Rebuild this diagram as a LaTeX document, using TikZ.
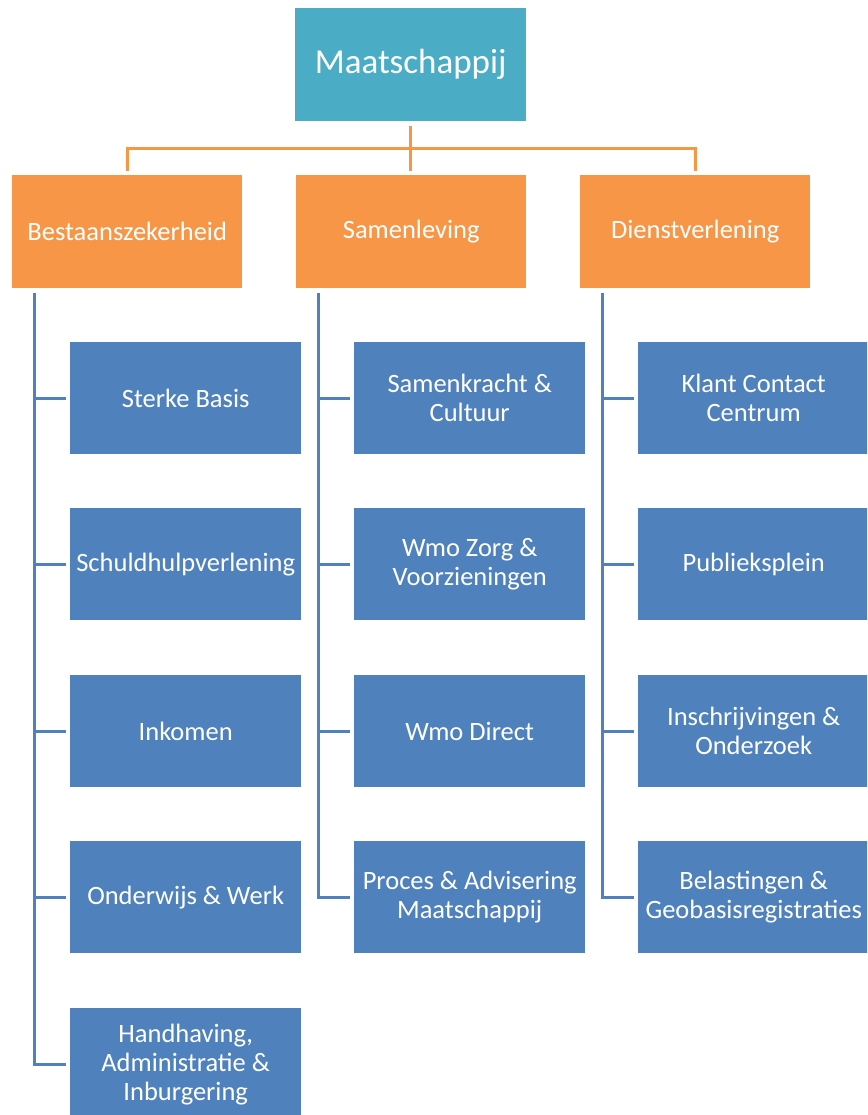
\documentclass[tikz,border=0pt]{standalone}
\usepackage{fontspec}
\setmainfont{Carlito}
\definecolor{teal1}{HTML}{4BACC6}
\definecolor{orange1}{HTML}{F79646}
\definecolor{blue1}{HTML}{4F81BD}
\begin{document}
\begin{tikzpicture}[x=1pt,y=-1pt,
  topbox/.style={fill=teal1,text=white,minimum width=231pt,minimum height=113pt,inner sep=0pt,anchor=north west,font=\fontsize{35}{40}\selectfont},
  midbox/.style={fill=orange1,text=white,minimum width=230pt,minimum height=113pt,inner sep=0pt,anchor=north west,font=\fontsize{26.5}{29}\selectfont},
  subbox/.style={fill=blue1,text=white,minimum width=231pt,minimum height=112pt,inner sep=0pt,anchor=north west,align=center,font=\fontsize{26.5}{29}\selectfont},
  oline/.style={draw=orange1,line width=3pt},
  bline/.style={draw=blue1,line width=3pt}]
\useasboundingbox (0,0) rectangle (867,1115);
\clip (0,0) rectangle (867,1115);
\node[topbox] (top) at (295,8) {Maatschappij};
\node[midbox] (bes) at (12,175) {Bestaanszekerheid};
\node[midbox] (sam) at (296,175) {Samenleving};
\node[midbox] (die) at (580,175) {Dienstverlening};
% blue boxes
\node[subbox] (b1) at (70,342) {Sterke Basis};
\node[subbox] (b2) at (70,508) {Schuldhulpverlening};
\node[subbox] (b3) at (70,675) {Inkomen};
\node[subbox] (b4) at (70,841) {Onderwijs \& Werk};
\node[subbox] (b5) at (70,1008) {Handhaving,\\Administratie \&\\Inburgering};
\node[subbox] (s1) at (354,342) {Samenkracht \&\\Cultuur};
\node[subbox] (s2) at (354,508) {Wmo Zorg \&\\Voorzieningen};
\node[subbox] (s3) at (354,675) {Wmo Direct};
\node[subbox] (s4) at (354,841) {Proces \& Advisering\\Maatschappij};
\node[subbox] (d1) at (638,342) {Klant Contact\\Centrum};
\node[subbox] (d2) at (638,508) {Publieksplein};
\node[subbox] (d3) at (638,675) {Inschrijvingen \&\\Onderzoek};
\node[subbox] (d4) at (638,841) {Belastingen \&\\Geobasisregistraties};
% orange connectors
\draw[oline] ([yshift=-5pt]top.south) -- ([yshift=4pt]top.south |- sam.north);
\draw[oline] ([yshift=4pt]bes.north) -- ++(0,-22) -| ([yshift=4pt]die.north);
% blue connectors
\coordinate (cb) at (34,293);
\coordinate (cs) at (318,293);
\coordinate (cd) at (602,293);
\draw[bline] (cb) |- ([xshift=-4pt]b5.west);
\foreach \n in {b1,b2,b3,b4} \draw[bline] (cb |- \n.west) -- ([xshift=-4pt]\n.west);
\draw[bline] (cs) |- ([xshift=-4pt]s4.west);
\foreach \n in {s1,s2,s3} \draw[bline] (cs |- \n.west) -- ([xshift=-4pt]\n.west);
\draw[bline] (cd) |- ([xshift=-4pt]d4.west);
\foreach \n in {d1,d2,d3} \draw[bline] (cd |- \n.west) -- ([xshift=-4pt]\n.west);
\end{tikzpicture}
\end{document}
